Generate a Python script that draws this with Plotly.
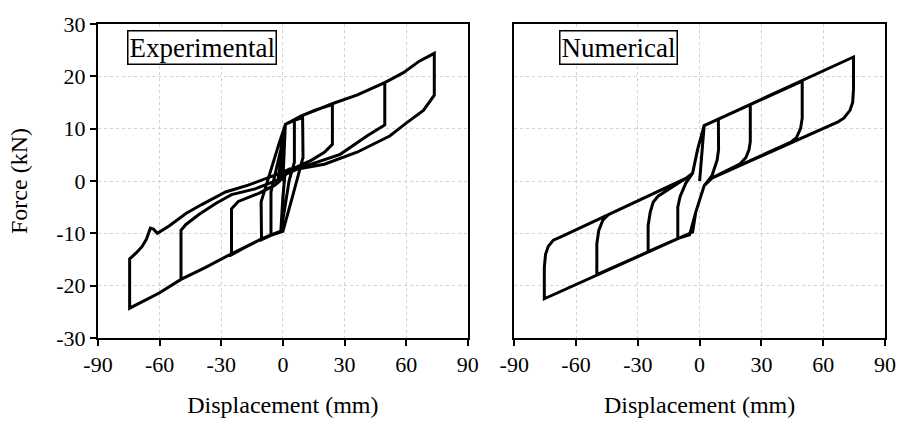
import plotly.graph_objects as go

# ---------------- data ----------------
# Experimental hysteresis: displacement (mm), force (kN), drawn as one continuous path
exp_disp = [
    # +/-5 mm cycle
    0, 0.6, 1.2, 3, 5.6, 5.6, 3, 1, -1, -3, -5.8, -5.8, -4, -1, 1.2,
    # +/-10 mm cycle
    5.6, 9.6, 9.8, 5, 0, -5.8, -10.4, -10.6, -6, -2, 1.2,
    # +/-25 mm cycle
    8.7, 16, 24.1, 24.1, 20.2, 14, 8.7, 3, 0.8, 0, -1, -5.8, -10.6, -18, -25, -25, -21.7, -12, -3.9, -1.5, -0.5, 1.2,
    # +/-50 mm cycle
    8.7, 25, 36, 49.6, 49.6, 45, 40.9, 27.9, 12, 3, 0.8, 0, -1, -5.8, -10.6, -25, -37.6, -49.6, -49.6, -47.2,
    -40.9, -32.7, -25, -13.5, -2.4, -0.5, 1.2,
    # +/-75 mm cycle
    8.7, 25, 36, 49.6, 58.7, 66.4, 73.7, 73.7, 68.4, 64, 60.2, 52, 36.1, 20.2, 7.2, 1, 0, -1, -5.8, -10.6,
    -25, -37.6, -49.6, -60.2, -74.6, -74.6, -71.3, -68.5, -66.4, -64.5, -63, -61.1, -55.4, -47.2, -39.5,
    -32.7, -27.9, -16.9, -5.8, 0, 4,
]
exp_force = [
    0, 6, 10.8, 11.2, 11.6, 3.6, 0, -5, -9.6, -10, -10.3, -2.1, 1, 6, 10.8,
    11.6, 12.1, 4.5, -2.5, -9.6, -10.4, -11.2, -4, 2, 7, 10.8,
    12.4, 13.6, 14.6, 7.0, 5.5, 4.0, 3.0, 2.0, 1.0, -3, -9.6, -10.3, -11.1, -12.6, -14.1, -5.3, -3.9, -2.4, -0.8, 0, 5, 10.8,
    12.4, 14.9, 16.4, 18.8, 10.7, 9.6, 8.6, 5.1, 3.0, 1.8, 1.0, -3, -9.6, -10.3, -11.1, -13.9, -16.5, -18.8, -9.4, -8.3,
    -6.4, -4.3, -2.6, -1.5, 0.2, 5, 10.8,
    12.4, 14.9, 16.4, 18.8, 20.7, 22.9, 24.4, 16.4, 13.5, 12.3, 11.1, 8.6, 5.5, 3.2, 2.3, 1.2, -3, -9.6, -10.3, -11.1,
    -13.9, -16.5, -18.8, -21.4, -24.3, -14.9, -13.7, -12.5, -11.1, -9.0, -9.2, -10.0, -8.6, -6.2, -4.5,
    -3.0, -2.1, -0.8, 0.75, 1.7, 2.4,
]

# Numerical hysteresis: displacement (mm), force (kN)
num_disp = [
    # +/-10 mm cycle
    0, 1, 2.2, 9.1, 9.2, 8.5, 6, 2.2, -1.9, -4.9, -10.6, -10.6, -9.5, -6.7, -3.4, -1, 2.2,
    # +/-25 mm cycle
    24.6, 24.6, 24, 22.5, 19.7, 6.2, 2.2, -1.9, -3.4, -10.6, -25, -25, -24, -22.5, -20.2, -6.7, -3.4, -1, 2.2,
    # +/-50 mm cycle
    49.8, 49.8, 49, 47, 44.6, 6.2, 2.2, -1.9, -3.4, -49.9, -49.9, -49, -47, -44.2, -6.7, -3.4, -1, 2.2,
    # +/-75 mm cycle
    74.7, 74.7, 74.3, 73, 70, 67.2, 6.2, 2.2, -1.9, -3.4, -75.4, -75.4, -74.8, -73.5, -71, -65.8, -6.7, -3.4,
]
num_force = [
    0, 5, 10.6, 11.8, 6, 4, 1, -0.9, -6, -10.3, -11.0, -5, -3, -0.4, 1.5, 6, 10.6,
    14.6, 7.5, 6, 4.5, 3.3, 0.6, -0.9, -6, -9.75, -11.0, -13.5, -8.5, -6, -4, -2.9, 0.5, 1.5, 6, 10.6,
    19.1, 12, 10, 8.3, 7.5, 0.6, -0.9, -6, -9.75, -17.9, -12, -9.5, -7.5, -6.4, 0.5, 1.5, 6, 10.6,
    23.7, 17.5, 15, 13.5, 12, 11.3, 0.6, -0.9, -6, -9.75, -22.5, -16.5, -14, -12.5, -11.3, -10.4, 0.5, 1.5,
]

x_ticks = [-90, -60, -30, 0, 30, 60, 90]
x_tick_text = ["-90", "-60", "-30", "0", "30", "60", "90"]
y_ticks = [-30, -20, -10, 0, 10, 20, 30]
y_tick_text = ["-30", "-20", "-10", "0", "10", "20", "30"]
panel_labels = ["Experimental", "Numerical"]

# ---------------- figure ----------------
FONT = "Liberation Serif, Times New Roman, serif"
line_style = dict(color="black", width=3)

fig = go.Figure()
fig.add_trace(go.Scatter(x=exp_disp, y=exp_force, mode="lines", line=line_style,
                         xaxis="x", yaxis="y", showlegend=False))
fig.add_trace(go.Scatter(x=num_disp, y=num_force, mode="lines", line=line_style,
                         xaxis="x2", yaxis="y2", showlegend=False))

axis_common = dict(
    showline=True, linecolor="black", linewidth=2, mirror=True,
    showgrid=True, gridcolor="#d2d2d2", griddash="dot", gridwidth=1,
    zeroline=False, ticks="outside", ticklen=6, tickwidth=1.5, tickcolor="black",
    tickfont=dict(family=FONT, size=22, color="black"),
)

xl = (98, 472)
xr = (519, 894)
W, H = 908, 429
L, R = 98, 894
dom1 = [(xl[0] - L) / (R - L), (xl[1] - L) / (R - L)]
dom2 = [(xr[0] - L) / (R - L), 1.0]

title_font = dict(family=FONT, size=24, color="black")

fig.update_layout(
    width=W, height=H,
    margin=dict(l=L, r=W - R, t=18, b=91),
    paper_bgcolor="white", plot_bgcolor="white",
    font=dict(family=FONT, color="black"),
    xaxis=dict(domain=dom1, range=[-90, 90], tickvals=x_ticks, ticktext=x_tick_text, anchor="y",
               title=dict(text="Displacement (mm)", font=title_font, standoff=20),
               **axis_common),
    yaxis=dict(domain=[0, 1], range=[-30, 30], tickvals=y_ticks, ticktext=y_tick_text, anchor="x",
               title=dict(text="Force (kN)", font=title_font, standoff=22),
               **axis_common),
    xaxis2=dict(domain=dom2, range=[-90, 90], tickvals=x_ticks, ticktext=x_tick_text, anchor="y2",
                title=dict(text="Displacement (mm)", font=title_font, standoff=20),
                **axis_common),
    yaxis2=dict(domain=[0, 1], range=[-30, 30], tickvals=y_ticks, anchor="x2",
                **{**axis_common, "ticks": "", "showticklabels": False}),
)

for xref, yref, label in [("x", "y", panel_labels[0]), ("x2", "y2", panel_labels[1])]:
    fig.add_annotation(
        x=-39.5, y=25.6, xref=xref, yref=yref, text=label, showarrow=False,
        xanchor="center", yanchor="middle",
        font=dict(family=FONT, size=27, color="black"),
        bordercolor="black", borderwidth=1.5, borderpad=1, bgcolor="white",
    )

fig.write_html("out.html")
